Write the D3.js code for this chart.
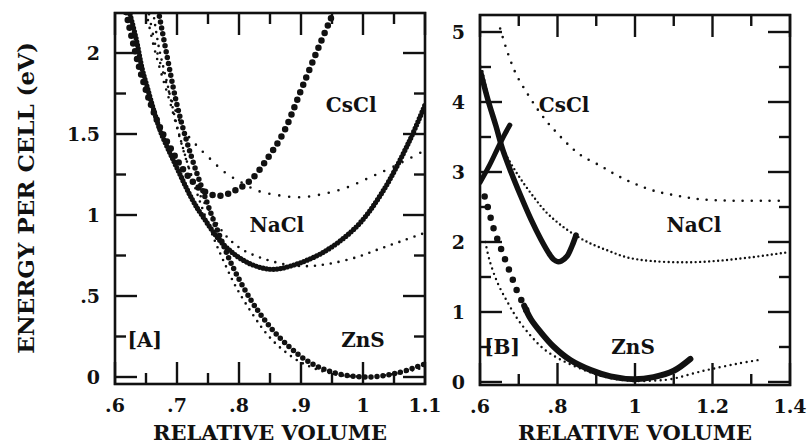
<!DOCTYPE html>
<html>
<head>
<meta charset="utf-8">
<script src="https://cdn.jsdelivr.net/npm/d3@7"></script>
</head>
<body style="margin:0;padding:0;background:#fff;">
<svg id="chart" width="809" height="447" style="display:block;background:#fff;"></svg>
<script>
// ---- Panel A: energy (eV) vs relative volume, 0.6 – 1.1 ----
const cesiumHeavyA = [[0.615,2.3],[0.628,2.08],[0.642,1.87],[0.658,1.68],[0.675,1.52],[0.69,1.41],[0.705,1.31],[0.72,1.23],[0.74,1.155],[0.767,1.118],[0.793,1.15],[0.82,1.22],[0.846,1.35],[0.872,1.51],[0.9,1.77],[0.93,2.05],[0.958,2.3]];
const cesiumLightA = [[0.652,2.3],[0.665,2.05],[0.68,1.85],[0.695,1.67],[0.712,1.52],[0.734,1.42],[0.75,1.36],[0.766,1.3],[0.782,1.25],[0.8,1.21],[0.83,1.15],[0.867,1.12],[0.9,1.11],[0.936,1.13],[0.974,1.17],[1.01,1.23],[1.05,1.3],[1.1,1.4]];
const sodiumHeavyA = [[0.62,2.3],[0.634,2.09],[0.644,1.9],[0.652,1.79],[0.663,1.64],[0.675,1.5],[0.689,1.38],[0.7,1.29],[0.724,1.1],[0.74,1.0],[0.777,0.81],[0.814,0.706],[0.851,0.665],[0.883,0.685],[0.936,0.77],[0.99,0.93],[1.031,1.14],[1.074,1.45],[1.1,1.68]];
const sodiumLightA = [[0.648,2.3],[0.662,2.05],[0.675,1.87],[0.69,1.68],[0.705,1.47],[0.72,1.28],[0.735,1.14],[0.75,1.04],[0.777,0.88],[0.804,0.79],[0.84,0.73],[0.883,0.69],[0.915,0.685],[0.947,0.7],[0.99,0.74],[1.026,0.79],[1.063,0.84],[1.1,0.89]];
const zincHeavyA = [[0.668,2.3],[0.684,1.98],[0.7,1.68],[0.72,1.4],[0.75,1.06],[0.77,0.86],[0.79,0.68],[0.82,0.47],[0.85,0.31],[0.88,0.19],[0.91,0.1],[0.95,0.03],[1.0,0.0],[1.05,0.02],[1.1,0.08]];
const zincLightA = [[0.66,2.3],[0.67,2.05],[0.685,1.8],[0.7,1.55],[0.72,1.28],[0.74,1.05],[0.76,0.85],[0.777,0.7],[0.796,0.55],[0.825,0.37],[0.846,0.26],[0.87,0.17],[0.9,0.09],[0.94,0.03],[0.98,0.005],[1.02,0.005],[1.06,0.025],[1.1,0.06]];

// ---- Panel B: energy (eV) vs relative volume, 0.6 – 1.4 ----
const cesiumHeavyB = [[0.6,2.85],[0.624,3.09],[0.645,3.33],[0.662,3.52],[0.677,3.67]];
const cesiumLightB = [[0.652,5.05],[0.671,4.71],[0.693,4.4],[0.72,4.14],[0.748,3.9],[0.774,3.71],[0.8,3.55],[0.83,3.38],[0.86,3.24],[0.91,3.09],[0.954,2.95],[1.0,2.83],[1.05,2.73],[1.11,2.66],[1.17,2.61],[1.25,2.59],[1.34,2.59],[1.39,2.59]];
const sodiumHeavyB = [[0.602,4.42],[0.62,4.04],[0.641,3.66],[0.658,3.33],[0.68,3.0],[0.705,2.66],[0.731,2.33],[0.757,2.04],[0.78,1.82],[0.79,1.75],[0.8,1.72],[0.81,1.73],[0.825,1.8],[0.838,1.95],[0.848,2.1]];
const sodiumLightB = [[0.604,4.5],[0.62,4.1],[0.64,3.7],[0.66,3.33],[0.68,3.12],[0.705,2.9],[0.739,2.64],[0.77,2.43],[0.8,2.28],[0.834,2.14],[0.877,2.0],[0.929,1.88],[0.98,1.78],[1.04,1.73],[1.125,1.71],[1.211,1.73],[1.297,1.78],[1.39,1.85]];
const zincHeavyB = [[0.612,2.65],[0.624,2.42],[0.633,2.23],[0.645,2.04],[0.658,1.85],[0.671,1.66],[0.684,1.47],[0.697,1.28],[0.714,1.09],[0.731,0.9],[0.757,0.71],[0.791,0.5],[0.834,0.31],[0.886,0.17],[0.937,0.08],[0.997,0.04],[1.048,0.07],[1.1,0.16],[1.143,0.33]];
const zincLightB = [[0.614,2.0],[0.624,1.75],[0.645,1.42],[0.671,1.14],[0.697,0.9],[0.731,0.66],[0.765,0.47],[0.808,0.32],[0.86,0.19],[0.911,0.09],[0.98,0.02],[1.048,0.02],[1.091,0.04],[1.177,0.16],[1.263,0.26],[1.325,0.32]];

// ---- Tick labels ----
const xTickLabelsA = [".6", ".7", ".8", ".9", "1", "1.1"];
const yTickLabelsA = ["0", ".5", "1", "1.5", "2"];
const xTickLabelsB = [".6", ".8", "1", "1.2", "1.4"];
const yTickLabelsB = ["0", "1", "2", "3", "4", "5"];

// ---- Curve annotations: [text, x, y] in data units ----
const labelsA = [["CsCl", 0.981, 1.636], ["NaCl", 0.861, 0.895], ["ZnS", 1.0, 0.185], ["[A]", 0.648, 0.185]];
const labelsB = [["CsCl", 0.817, 3.857], ["NaCl", 1.152, 2.143], ["ZnS", 0.995, 0.40], ["[B]", 0.657, 0.40]];

const svg = d3.select("#chart");
const INK = "#111";
const FONT = "DejaVu Serif, serif";
const TICK_W = 2.4;

const dots = (w, gap) => ({ width: w, dash: `0 ${gap}` });
const solid = w => ({ width: w, dash: null });

// Text helper: heavy serif lettering
function label(sel, size) {
  return sel.attr("font-family", FONT)
    .attr("font-size", size)
    .attr("font-weight", "bold")
    .attr("fill", INK);
}

function drawPanel(cfg) {
  const x = d3.scaleLinear().domain(cfg.xDomain).range([cfg.left, cfg.right]);
  const y = d3.scaleLinear().domain(cfg.yDomain).range([cfg.bottom, cfg.top]);
  const g = svg.append("g");

  const clipId = "clip-" + cfg.id;
  svg.append("defs").append("clipPath").attr("id", clipId)
    .append("rect")
    .attr("x", cfg.left).attr("y", cfg.top)
    .attr("width", cfg.right - cfg.left).attr("height", cfg.bottom - cfg.top);

  const line = d3.line().x(d => x(d[0])).y(d => y(d[1])).curve(d3.curveCatmullRom.alpha(0.5));
  const inner = g.append("g").attr("clip-path", `url(#${clipId})`);

  // Energy curves
  cfg.series.forEach(s => {
    inner.append("path")
      .datum(s.data)
      .attr("d", line)
      .attr("fill", "none")
      .attr("stroke", INK)
      .attr("stroke-width", s.style.width)
      .attr("stroke-linecap", "round")
      .attr("stroke-linejoin", "round")
      .attr("stroke-dasharray", s.style.dash);
  });

  // Inward tick marks drawn as small filled bars (closed outlines)
  const xTicks = cfg.xMajor.map(v => [v, 22]).concat(cfg.xMinor.map(v => [v, 11]));
  const yTicks = cfg.yMajor.map(v => [v, 22]).concat(cfg.yMinor.map(v => [v, 11]));
  const h = TICK_W / 2;
  const bars = [];
  xTicks.forEach(([v, len]) => {
    const cx = x(v);
    bars.push([[cx - h, cfg.bottom + 1], [cx + h, cfg.bottom + 1], [cx + h, cfg.bottom - len], [cx - h, cfg.bottom - len]]);
    bars.push([[cx - h, cfg.top - 1], [cx + h, cfg.top - 1], [cx + h, cfg.top + len], [cx - h, cfg.top + len]]);
  });
  yTicks.forEach(([v, len]) => {
    const cy = y(v);
    bars.push([[cfg.left - 1, cy - h], [cfg.left + len, cy - h], [cfg.left + len, cy + h], [cfg.left - 1, cy + h]]);
    bars.push([[cfg.right + 1, cy - h], [cfg.right - len, cy - h], [cfg.right - len, cy + h], [cfg.right + 1, cy + h]]);
  });
  g.append("g").selectAll("polygon").data(bars).join("polygon")
    .attr("points", d => d.map(p => p.join(",")).join(" "))
    .attr("fill", INK)
    .attr("stroke", "none");

  // Frame
  g.append("rect")
    .attr("x", cfg.left).attr("y", cfg.top)
    .attr("width", cfg.right - cfg.left).attr("height", cfg.bottom - cfg.top)
    .attr("fill", "none").attr("stroke", INK).attr("stroke-width", 2.6);

  // Tick labels
  g.selectAll("text.x-label").data(cfg.xMajor).join("text").attr("class", "x-label")
    .attr("x", d => x(d)).attr("y", cfg.bottom + 28)
    .attr("text-anchor", "middle")
    .call(label, 19)
    .text((d, i) => cfg.xLabels[i]);
  g.selectAll("text.y-label").data(cfg.yMajor).join("text").attr("class", "y-label")
    .attr("x", cfg.left - 15).attr("y", d => y(d)).attr("dy", "0.36em")
    .attr("text-anchor", "end")
    .call(label, 19)
    .text((d, i) => cfg.yLabels[i]);

  // Phase names and panel tag
  g.selectAll("text.curve-label").data(cfg.labels).join("text")
    .attr("class", "curve-label")
    .attr("x", d => x(d[1])).attr("y", d => y(d[2]))
    .attr("text-anchor", "middle")
    .call(label, 20)
    .text(d => d[0]);

  g.append("text")
    .attr("x", (cfg.left + cfg.right) / 2).attr("y", 440)
    .attr("text-anchor", "middle")
    .call(label, 21)
    .text("RELATIVE VOLUME");
}

const tickVals = (a, b, step) => d3.range(Math.round((b - a) / step) + 1).map(i => +(a + i * step).toFixed(4));

drawPanel({
  id: "a", left: 115, right: 425, top: 13, bottom: 384,
  xDomain: [0.6, 1.1], yDomain: [-0.0432, 2.247],
  xMajor: tickVals(0.6, 1.1, 0.1), xMinor: tickVals(0.65, 1.05, 0.1), xLabels: xTickLabelsA,
  yMajor: tickVals(0, 2, 0.5), yMinor: tickVals(0.25, 1.75, 0.5), yLabels: yTickLabelsA,
  labels: labelsA,
  series: [
    { data: cesiumLightA, style: dots(2.6, 10) },
    { data: sodiumLightA, style: dots(2.6, 8) },
    { data: zincLightA, style: dots(2.6, 7) },
    { data: cesiumHeavyA, style: dots(6.5, 8) },
    { data: sodiumHeavyA, style: dots(5.2, 3.5) },
    { data: zincHeavyA, style: dots(5.5, 6) }
  ]
});

drawPanel({
  id: "b", left: 480, right: 790, top: 15, bottom: 385,
  xDomain: [0.6, 1.4], yDomain: [-0.043, 5.243],
  xMajor: tickVals(0.6, 1.4, 0.2), xMinor: tickVals(0.7, 1.3, 0.2), xLabels: xTickLabelsB,
  yMajor: tickVals(0, 5, 1), yMinor: tickVals(0.5, 4.5, 1), yLabels: yTickLabelsB,
  labels: labelsB,
  series: [
    { data: cesiumLightB, style: dots(2.6, 9) },
    { data: sodiumLightB, style: dots(2.4, 4.5) },
    { data: zincLightB, style: dots(2.4, 5.5) },
    { data: cesiumHeavyB, style: solid(5) },
    { data: sodiumHeavyB, style: solid(5.5) },
    { data: zincHeavyB.filter(d => d[0] <= 0.731), style: dots(6.5, 11) },
    { data: zincHeavyB.filter(d => d[0] >= 0.714), style: solid(6) }
  ]
});

// Shared vertical axis title
svg.append("text")
  .attr("transform", "translate(25,198) rotate(-90)")
  .attr("text-anchor", "middle")
  .attr("dominant-baseline", "central")
  .call(label, 23)
  .text("ENERGY PER CELL (eV)");
</script>
</body>
</html>
